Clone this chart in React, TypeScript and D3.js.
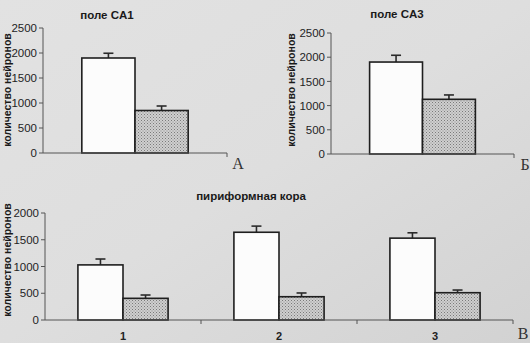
import * as d3 from 'd3'

// значения (контроль / киндлинг)
const catsA = ['']
const controlA = [1900]
const controlErrA = [95]
const kindlingA = [850]
const kindlingErrA = [90]

const catsB = ['']
const controlB = [1900]
const controlErrB = [140]
const kindlingB = [1130]
const kindlingErrB = [90]

const catsC = ['1', '2', '3']
const controlC = [1030, 1640, 1530]
const controlErrC = [110, 115, 100]
const kindlingC = [405, 435, 510]
const kindlingErrC = [62, 70, 50]

const ticksAB = [0, 500, 1000, 1500, 2000, 2500]
const ticksC = [0, 500, 1000, 1500, 2000]

const yLabel = 'количество нейронов'
const narrow = "'Liberation Sans Narrow', 'Arial Narrow', 'Liberation Sans', Arial, sans-serif"
const sans = "'Liberation Sans', Arial, sans-serif"
const serif = "'Liberation Serif', 'Times New Roman', serif"

type PanelProps = {
  x0: number; x1: number; yTop: number; yBottom: number; max: number; ticks: number[]
  cats: string[]; control: number[]; controlErr: number[]; kindling: number[]; kindlingErr: number[]
  title: string; titleX: number; titleY: number
  letter: string; letterX: number; letterY: number
  labelX: number; labelY: number
}

function Panel(p: PanelProps) {
  const y = d3.scaleLinear().domain([0, p.max]).range([p.yBottom, p.yTop])
  const x = d3.scaleBand().domain(p.cats).range([p.x0, p.x1])
  const sub = d3.scaleBand().domain(['c', 'k']).range([0, x.bandwidth()]).paddingOuter(0.73)
  const bw = sub.bandwidth()
  const bars: { x: number; v: number; e: number; fill: string }[] = []
  p.cats.forEach((c, i) => {
    bars.push({ x: x(c)! + sub('c')!, v: p.control[i], e: p.controlErr[i], fill: '#fcfcfc' })
    bars.push({ x: x(c)! + sub('k')!, v: p.kindling[i], e: p.kindlingErr[i], fill: 'url(#dots)' })
  })
  return (
    <g>
      <text x={p.titleX} y={p.titleY} textAnchor="middle" fontFamily={sans} fontWeight="bold" fontSize={11.5} fill="#1a1a1a">{p.title}</text>
      <text transform={`translate(${p.labelX},${p.labelY}) rotate(-90)`} textAnchor="middle" fontFamily={sans} fontWeight="bold" fontSize={10.5} fill="#1a1a1a">{yLabel}</text>
      {/* ось Y */}
      <line x1={p.x0} x2={p.x0} y1={y(p.max)} y2={p.yBottom} stroke="#555" strokeWidth={1} />
      {p.ticks.map(t => (
        <g key={t}>
          <line x1={p.x0 - 4} x2={p.x0} y1={y(t)} y2={y(t)} stroke="#555" />
          <text x={p.x0 - 6} y={y(t)} dy="0.36em" textAnchor="end" fontFamily={narrow} fontSize={11.5} fill="#1e1e1e">{t}</text>
        </g>
      ))}
      {/* столбцы */}
      {bars.map((b, i) => (
        <g key={i}>
          <line x1={b.x + bw / 2} x2={b.x + bw / 2} y1={y(b.v)} y2={y(b.v + b.e)} stroke="#2a2a2a" strokeWidth={1.6} />
          <line x1={b.x + bw / 2 - 5} x2={b.x + bw / 2 + 5} y1={y(b.v + b.e)} y2={y(b.v + b.e)} stroke="#2a2a2a" strokeWidth={1.6} />
          <rect x={b.x} y={y(b.v)} width={bw} height={p.yBottom - y(b.v)} fill={b.fill} stroke="#1e1e1e" strokeWidth={1.6} />
        </g>
      ))}
      {/* ось X */}
      <line x1={p.x0} x2={p.x1} y1={p.yBottom} y2={p.yBottom} stroke="#555" strokeWidth={1} />
      {p.cats.map(c => (
        <line key={'t' + c} x1={x(c)! + x.bandwidth()} x2={x(c)! + x.bandwidth()} y1={p.yBottom} y2={p.yBottom + 4} stroke="#555" />
      ))}
      {p.cats.map(c => c ? (
        <text key={'l' + c} x={x(c)! + x.bandwidth() / 2} y={p.yBottom + 20} textAnchor="middle" fontFamily={sans} fontWeight="bold" fontSize={11} fill="#222">{c}</text>
      ) : null)}
      <text x={p.letterX} y={p.letterY} textAnchor="middle" fontFamily={serif} fontSize={16} fill="#333">{p.letter}</text>
    </g>
  )
}

export default function App() {
  return (
    <svg width={530} height={343} style={{ position: 'absolute', left: 0, top: 0 }}>
      <defs>
        <linearGradient id="paper" x1="0" y1="0" x2="1" y2="1">
          <stop offset="0" stopColor="#e2e2e2" />
          <stop offset="0.5" stopColor="#dedede" />
          <stop offset="1" stopColor="#d2d2d2" />
        </linearGradient>
        <pattern id="dots" width={3} height={3} patternUnits="userSpaceOnUse">
          <rect width={3} height={3} fill="#cfcfcf" />
          <rect x={0} y={0} width={1} height={1} fill="#7a7a7a" />
          <rect x={1.5} y={1.5} width={1} height={1} fill="#8e8e8e" />
        </pattern>
      </defs>
      <rect width={530} height={343} fill="url(#paper)" />
      <Panel x0={43} x1={227} yTop={28} yBottom={153} max={2500} ticks={ticksAB}
        cats={catsA} control={controlA} controlErr={controlErrA} kindling={kindlingA} kindlingErr={kindlingErrA}
        title="поле CA1" titleX={107} titleY={19} letter="А" letterX={238} letterY={169} labelX={11} labelY={90} />
      <Panel x0={331} x1={514} yTop={33} yBottom={154} max={2500} ticks={ticksAB}
        cats={catsB} control={controlB} controlErr={controlErrB} kindling={kindlingB} kindlingErr={kindlingErrB}
        title="поле CA3" titleX={397} titleY={18} letter="Б" letterX={525} letterY={170} labelX={295} labelY={90} />
      <Panel x0={45} x1={513} yTop={213} yBottom={320} max={2000} ticks={ticksC}
        cats={catsC} control={controlC} controlErr={controlErrC} kindling={kindlingC} kindlingErr={kindlingErrC}
        title="пириформная кора" titleX={251} titleY={200} letter="В" letterX={523} letterY={339} labelX={11} labelY={260} />
    </svg>
  )
}
